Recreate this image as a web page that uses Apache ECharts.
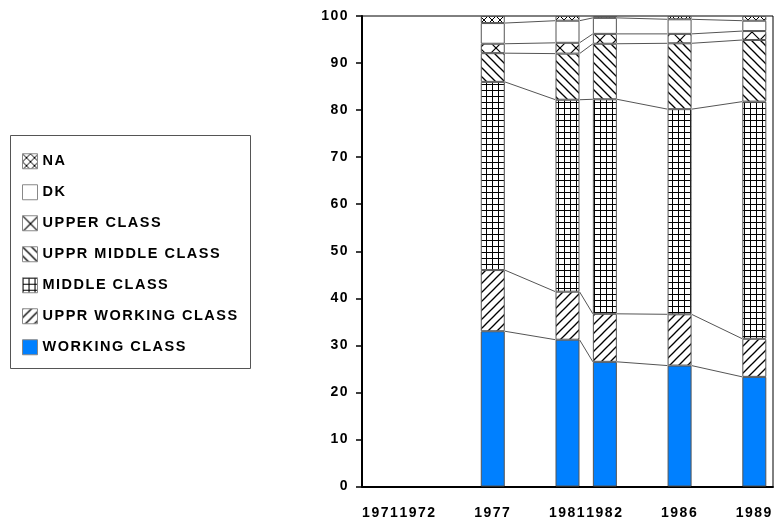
<!DOCTYPE html>
<html>
<head>
<meta charset="utf-8">
<style>html,body{margin:0;padding:0;background:#fff;}#chart{width:776px;height:522px;}</style>
<script src="https://cdn.jsdelivr.net/npm/echarts@6.0.0/dist/echarts.min.js"></script>
</head>
<body>
<div id="chart"></div>
<script>
// Tracked lettering like the reference (applied to every canvas font assignment)
(function(){
  var d = Object.getOwnPropertyDescriptor(CanvasRenderingContext2D.prototype, 'font');
  if (d && d.set) {
    Object.defineProperty(CanvasRenderingContext2D.prototype, 'font', {
      configurable: true,
      get: function(){ return d.get.call(this); },
      set: function(v){ d.set.call(this, v); try { this.letterSpacing = '1.5px'; } catch(e){} }
    });
  }
})();

// ---- data ----
const categories = ['1971', '1972', '', '1977', '', '1981', '1982', '', '1986', '', '1989'];
const years = ['1977', '1981', '1982', '1986', '1989'];
const workingClass     = [33.0, 31.2, 26.5, 25.7, 23.3];
const upprWorkingClass = [13.0, 10.2, 10.2, 10.9, 8.1];
const middleClass      = [40.0, 40.8, 45.6, 43.6, 50.4];
const upprMiddleClass  = [6.1, 9.8, 11.8, 14.0, 13.1];
const upperClass       = [2.0, 2.3, 2.1, 2.0, 1.9];
const dk               = [4.4, 4.7, 3.4, 3.1, 2.2];
const na               = [1.5, 1.0, 0.4, 0.7, 1.0];
const yTicks = { min: 0, max: 100, interval: 10 };

// ---- patterns ----
function tile(n, draw) {
  const c = document.createElement('canvas');
  c.width = n; c.height = n;
  const g = c.getContext('2d');
  g.fillStyle = '#fff'; g.fillRect(0, 0, n, n);
  g.strokeStyle = '#000'; g.fillStyle = '#000';
  draw(g, n);
  return { image: c, repeat: 'repeat' };
}
function back(g, n, w) { g.lineWidth = w; for (const o of [-n, 0, n]) { g.beginPath(); g.moveTo(o - 1, -1); g.lineTo(o + n + 1, n + 1); g.stroke(); } }
function fwd(g, n, w) { g.lineWidth = w; for (const o of [-n, 0, n]) { g.beginPath(); g.moveTo(o - 1, n + 1); g.lineTo(o + n + 1, -1); g.stroke(); } }
const patNA = tile(8, (g, n) => { back(g, n, 1); fwd(g, n, 1); });
const patUC = tile(16, (g, n) => { back(g, n, 1.2); fwd(g, n, 1.2); });
const patUMC = tile(9, (g, n) => back(g, n, 1.3));
const patUWC = tile(9, (g, n) => fwd(g, n, 1.3));
const patMC = tile(6, (g, n) => { g.fillRect(0, 0, n, 1); g.fillRect(0, 0, 1, n); });

const stackDefs = [
  { name: 'WORKING CLASS', vals: workingClass, color: '#0080ff' },
  { name: 'UPPR WORKING CLASS', vals: upprWorkingClass, color: patUWC },
  { name: 'MIDDLE CLASS', vals: middleClass, color: patMC },
  { name: 'UPPR MIDDLE CLASS', vals: upprMiddleClass, color: patUMC },
  { name: 'UPPER CLASS', vals: upperClass, color: patUC },
  { name: 'DK', vals: dk, color: '#ffffff' },
  { name: 'NA', vals: na, color: patNA }
];

const BAR_W = 24;
const idx = years.map(y => categories.indexOf(y));

const barSeries = stackDefs.map(s => {
  const data = categories.map(() => null);
  years.forEach((y, i) => { data[idx[i]] = s.vals[i]; });
  return {
    name: s.name, type: 'bar', stack: 'total', barWidth: BAR_W,
    data: data,
    itemStyle: { color: s.color, borderColor: '#555', borderWidth: 1 },
    emphasis: { disabled: true }
  };
});

// cumulative tops for the connecting series lines
const cum = years.map((y, i) => { let t = 0; return stackDefs.slice(0, 6).map(s => (t += s.vals[i])); });
const linkData = [];
for (let i = 0; i < years.length - 1; i++) {
  for (let k = 0; k < 6; k++) linkData.push([idx[i], cum[i][k], idx[i + 1], cum[i + 1][k]]);
}

const FONT = 'Liberation Sans, Arial, sans-serif';
const chart = echarts.init(document.getElementById('chart'), null, { renderer: 'canvas' });
chart.setOption({
  animation: false,
  backgroundColor: '#fff',
  grid: { left: 362, right: 3, top: 16, bottom: 35.5, show: true, borderColor: '#000', borderWidth: 1, backgroundColor: 'transparent' },
  legend: {
    data: ['NA', 'DK', 'UPPER CLASS', 'UPPR MIDDLE CLASS', 'MIDDLE CLASS', 'UPPR WORKING CLASS', 'WORKING CLASS'],
    orient: 'vertical', left: 22, top: 153, padding: 0,
    itemWidth: 15, itemHeight: 15, itemGap: 14.5, icon: 'rect',
    selectedMode: false,
    itemStyle: { borderColor: '#888', borderWidth: 1 },
    textStyle: { fontFamily: FONT, fontWeight: 'bold', fontSize: 14.5, color: '#000' }
  },
  graphic: [{ type: 'rect', shape: { x: 10.5, y: 135.5, width: 240, height: 233 }, style: { fill: 'none', stroke: '#555', lineWidth: 1 }, silent: true }],
  xAxis: {
    type: 'category', data: categories, boundaryGap: true,
    axisLine: { lineStyle: { color: '#000', width: 2 } },
    axisTick: { alignWithLabel: true, interval: 0, length: 8, lineStyle: { color: '#000', width: 1.5 } },
    axisLabel: { interval: 0, margin: 19, color: '#000', fontFamily: FONT, fontWeight: 'bold', fontSize: 14 },
    splitLine: { show: false }
  },
  yAxis: {
    type: 'value', min: yTicks.min, max: yTicks.max, interval: yTicks.interval,
    axisLine: { show: true, lineStyle: { color: '#000', width: 2 } },
    axisTick: { show: true, length: 6, lineStyle: { color: '#000', width: 1.5 } },
    axisLabel: { margin: 13, color: '#000', fontFamily: FONT, fontWeight: 'bold', fontSize: 14 },
    splitLine: { show: false }
  },
  series: barSeries.concat([{
    type: 'custom', name: 'links', silent: true, z: 1,
    encode: { x: [0, 2], y: [1, 3] },
    data: linkData,
    renderItem: function (params, api) {
      const p1 = api.coord([api.value(0), api.value(1)]);
      const p2 = api.coord([api.value(2), api.value(3)]);
      return { type: 'line', shape: { x1: p1[0] + BAR_W / 2, y1: p1[1], x2: p2[0] - BAR_W / 2, y2: p2[1] }, style: { stroke: '#555', lineWidth: 1 } };
    }
  }])
});
</script>
</body>
</html>
